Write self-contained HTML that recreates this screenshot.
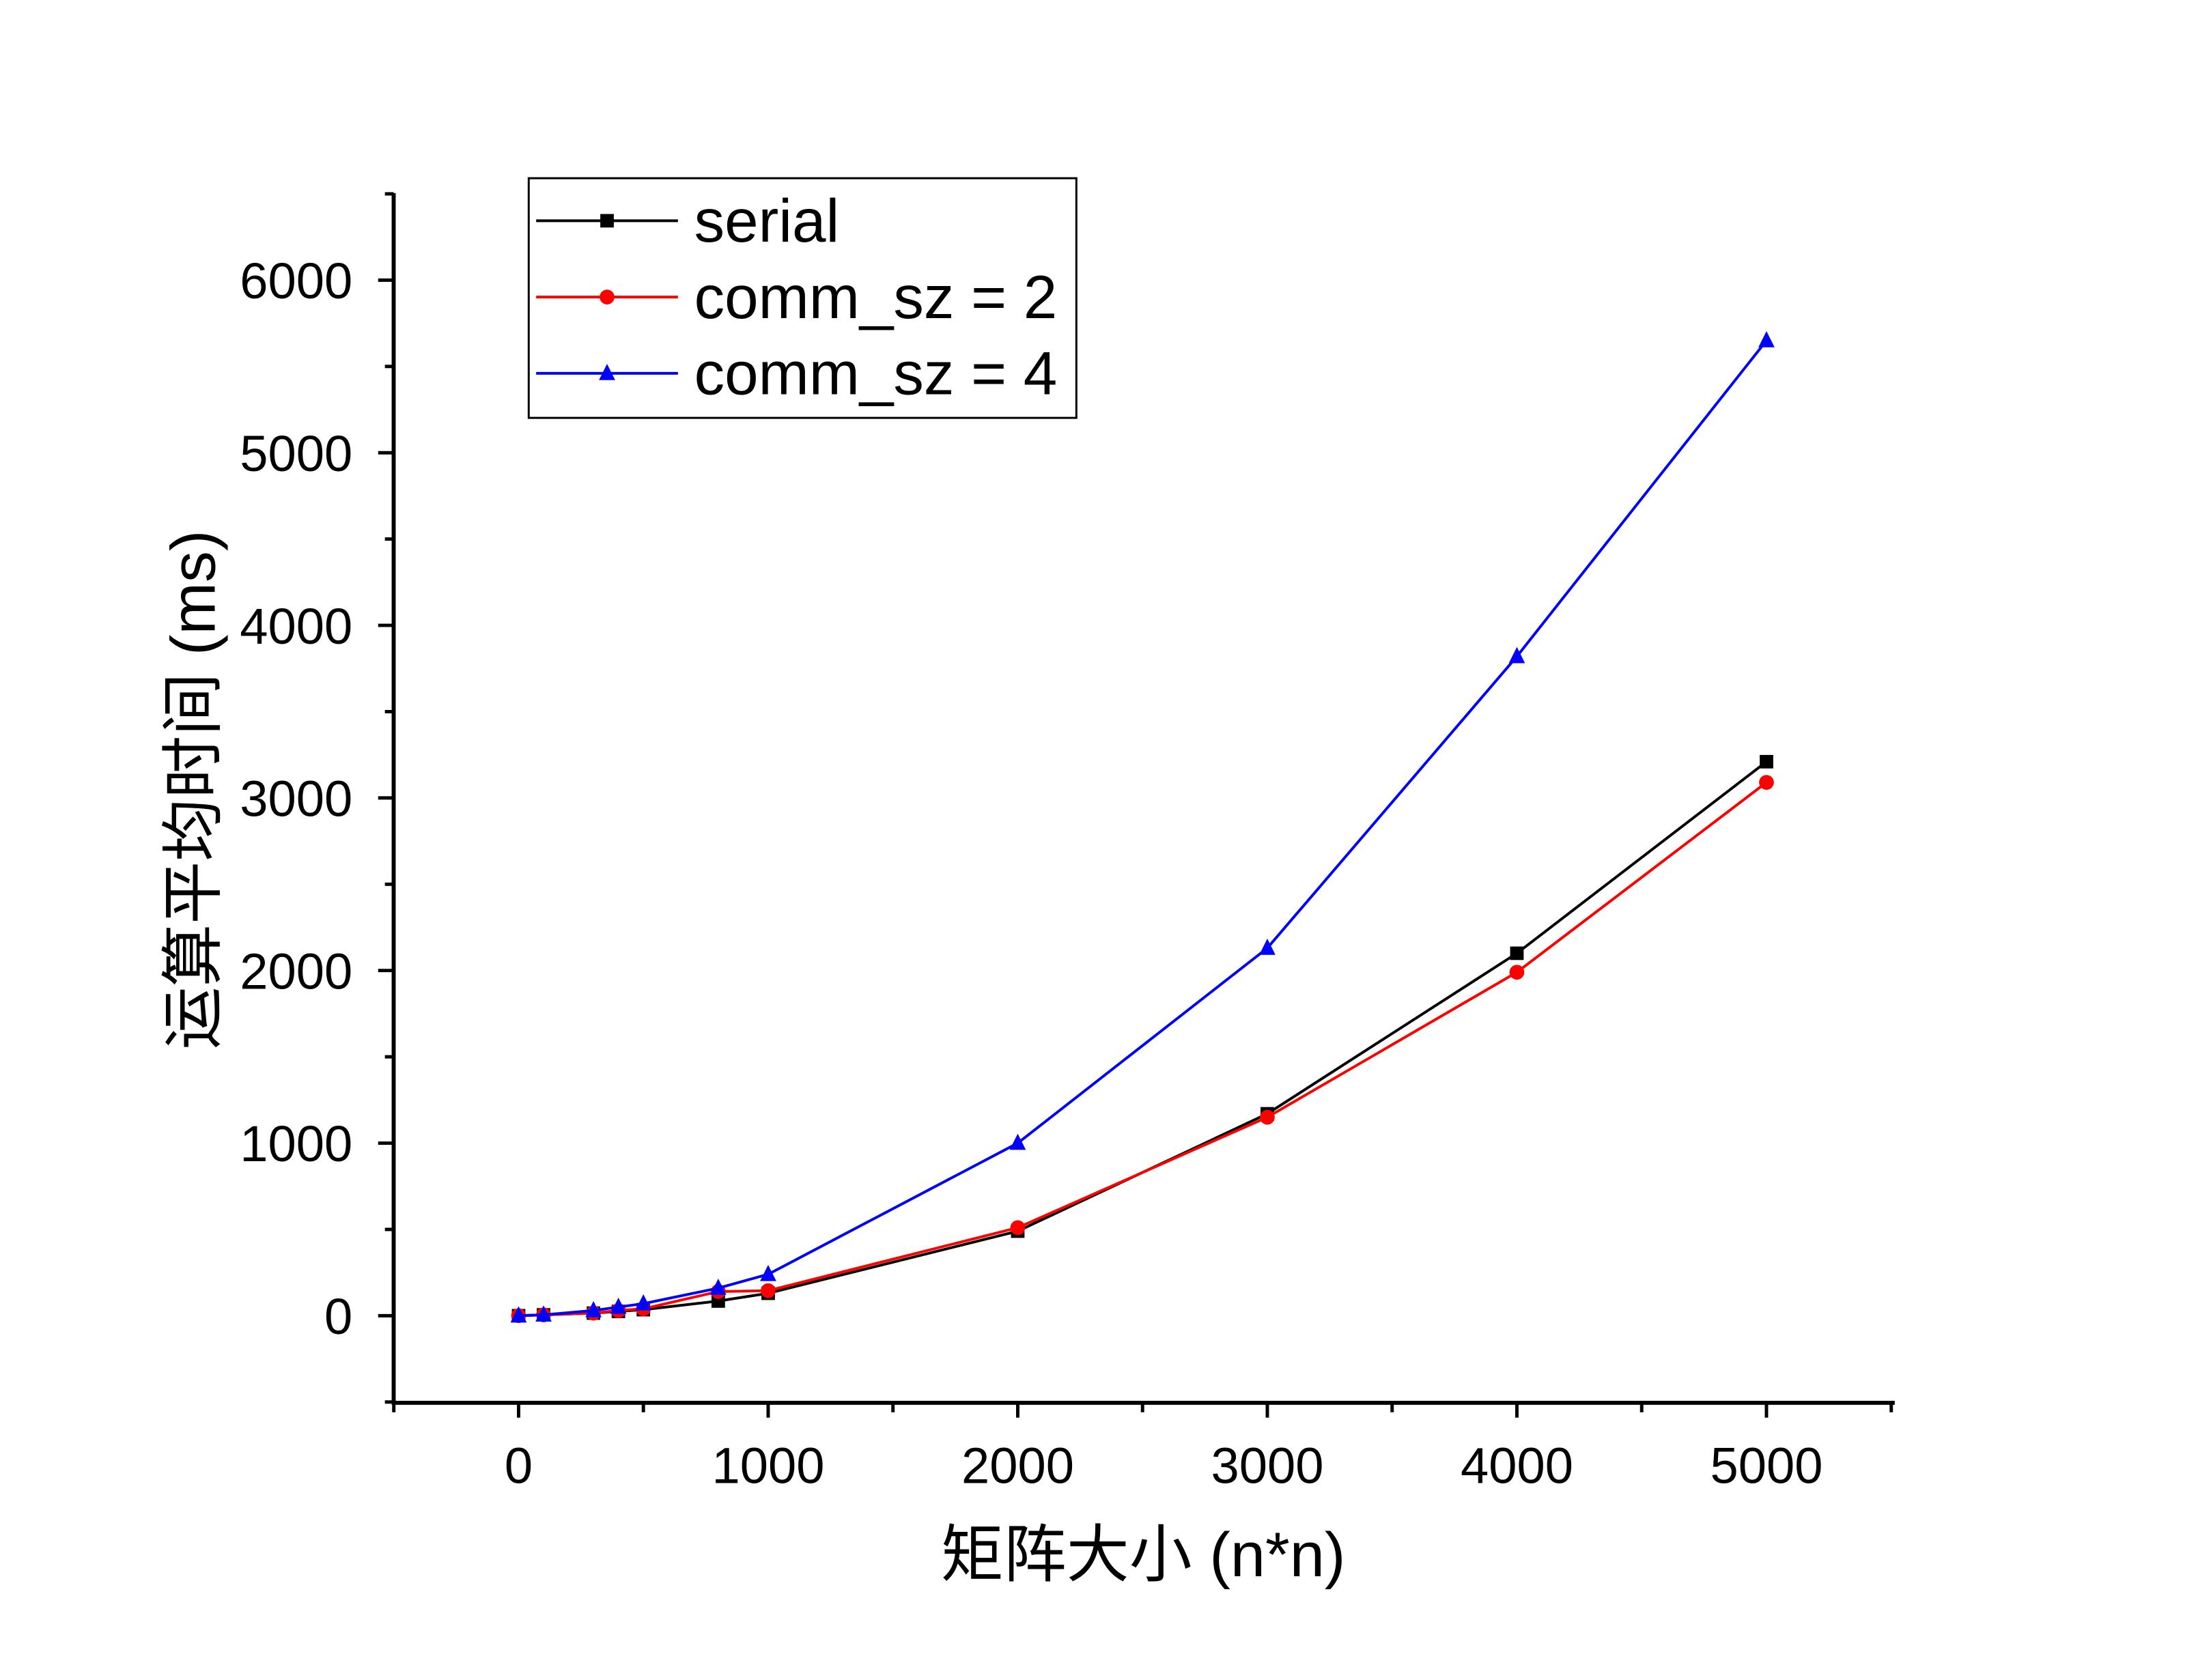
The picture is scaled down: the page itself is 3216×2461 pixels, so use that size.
<!DOCTYPE html>
<html><head><meta charset="utf-8"><style>html,body{margin:0;padding:0;background:#fff}svg{display:block}</style></head>
<body>
<svg id="chart" width="3216" height="2461" xmlns="http://www.w3.org/2000/svg" font-family="Liberation Sans, Noto Sans CJK SC, sans-serif">
<rect width="3216" height="2461" fill="#fff"/>
<g id="plot" transform="scale(0.9889)"></g>
</svg>
<script>
const xValues=[0,100,300,400,500,800,1000,2000,3000,4000,5000];
const serial=[0,5,15,25,35,85,130,490,1170,2100,3210];
const comm2=[0,5,15,30,40,140,145,510,1150,1990,3090];
const comm4=[0,5,30,50,70,160,240,1000,2130,3820,5650];
const xTicks=[0,1000,2000,3000,4000,5000];
const yTicks=[0,1000,2000,3000,4000,5000,6000];
const NS='http://www.w3.org/2000/svg';
const g=document.getElementById('plot');
const X=v=>768+(v/5000)*1848;
const Y=v=>1949-(v/6000)*1534;
function el(t,a,p){const e=document.createElementNS(NS,t);for(const k in a)e.setAttribute(k,a[k]);(p||g).appendChild(e);return e;}
let ax=el('line',{x1:583,y1:286,x2:583,y2:2078,stroke:'#000','stroke-width':6});


ax=el('line',{x1:580,y1:2078,x2:2806,y2:2078,stroke:'#000','stroke-width':6});


for(let v=-500;v<=6500;v+=500){const major=v%1000===0;const t=el('line',{x1:major?560:570,y1:Y(v),x2:583,y2:Y(v),stroke:'#000','stroke-width':5});

}
for(let v=-500;v<=5500;v+=500){const major=v%1000===0;const t=el('line',{x1:X(v),y1:2078,x2:X(v),y2:major?2100:2092,stroke:'#000','stroke-width':5});

}
yTicks.forEach(v=>{const t=el('text',{x:522,y:Y(v)+27,'font-size':75,'text-anchor':'end'});t.textContent=v;

});
xTicks.forEach(v=>{const t=el('text',{x:X(v),y:2197,'font-size':75,'text-anchor':'middle'});t.textContent=v;

});
let tt=el('text',{x:1693,y:2335,'font-size':93,'text-anchor':'middle'});tt.textContent='矩阵大小 (n*n)';


tt=el('text',{x:0,y:0,'font-size':93,'text-anchor':'middle',transform:'translate(318,1170) rotate(-90)'});tt.textContent='运算平均时间 (ms)';


function marker(type,x,y,c,s){if(type==='sq')return el('rect',{x:x-s,y:y-s,width:2*s,height:2*s,fill:c});if(type==='ci')return el('circle',{cx:x,cy:y,r:s+1,fill:c});return el('polygon',{points:`${x},${y-s-4} ${x-s-2},${y+s} ${x+s+2},${y+s}`,fill:c});}
const series=[[serial,'#000','sq','serial'],[comm2,'#f00','ci','comm2'],[comm4,'#00f','tr','comm4']];
series.forEach(([d,c,m,n])=>{const p=el('polyline',{points:d.map((v,i)=>X(xValues[i])+','+Y(v)).join(' '),fill:'none',stroke:c,'stroke-width':4});


d.forEach((v,i)=>{const k=marker(m,X(xValues[i]),Y(v),c,10);

});});
const lg=el('g',{});


el('rect',{x:783,y:264,width:811,height:355,fill:'#fff',stroke:'#000','stroke-width':3},lg);
const labels=['serial','comm_sz = 2','comm_sz = 4'];
series.forEach(([d,c,m,n],i)=>{const y=327+i*113;el('line',{x1:794,y1:y,x2:1004,y2:y,stroke:c,'stroke-width':4},lg);marker(m,899,y,c,10);
const t=el('text',{x:1028,y:y+31,'font-size':90},lg);t.textContent=labels[i];

});
</script>
</body></html>
